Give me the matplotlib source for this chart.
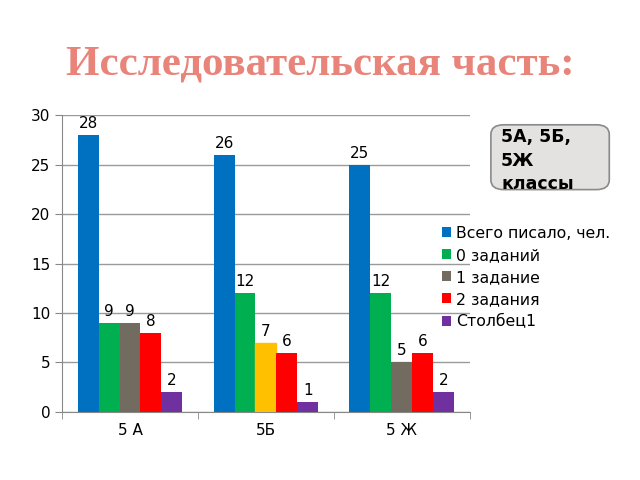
import numpy as np
import matplotlib
matplotlib.use("Agg")
import matplotlib.pyplot as plt
from matplotlib.patches import FancyBboxPatch

plt.rcParams['font.family'] = ['DejaVu Sans']

#Dati
classi = ['5 А', '5Б', '5 Ж']
serie = ['Всего писало, чел.', '0 заданий', '1 задание', '2 задания', 'Столбец1']
vsego = [28, 26, 25]
zero = [9, 12, 12]
odno = [9, 7, 5]
dva = [8, 6, 6]
stolbec = [2, 1, 2]
colori = ['#0070C0', '#00B050', '#726B60', '#FF0000', '#7030A0']

valori = [vsego, zero, odno, dva, stolbec]

fig = plt.figure(figsize=(6.4, 4.8), dpi=100)
ax = fig.add_axes([0.097, 0.142, 0.637, 0.618])

x = np.arange(len(classi))
w = 0.154
for i, (nome, val, col) in enumerate(zip(serie, valori, colori)):
    pos = x + (i - 2) * w
    barre = ax.bar(pos, val, w, color=col, label=nome, zorder=3)
    for xx, v in zip(pos, val):
        ax.text(xx, v + 0.4, str(v), ha='center', va='bottom', fontsize=11, zorder=4)
    if nome == '1 задание':
        barre[1].set_color('#FFC000')

ax.set_xlim(-0.5, 2.5)
ax.set_ylim(0, 30)
ax.set_yticks(range(0, 31, 5))
ax.set_xticks(x)
ax.set_xticklabels(classi)
ax.set_xticks([-0.5, 0.5, 1.5, 2.5], minor=True)
ax.tick_params(axis='x', which='major', length=0, labelsize=11, pad=8)
ax.tick_params(axis='x', which='minor', length=5, color='#888888')
ax.tick_params(axis='y', labelsize=11, length=5, color='#888888')
ax.yaxis.grid(True, color='#9a9a9a', linewidth=1, zorder=0)
for s in ['top', 'right']:
    ax.spines[s].set_visible(False)
ax.spines['left'].set_color('#888888')
ax.spines['bottom'].set_color('#888888')

fig.text(0.5, 0.865, 'Исследовательская часть:', ha='center', va='center',
         fontsize=31, fontweight='bold', family='Liberation Serif', color='#E8847A')

leg = fig.legend(loc='center left', bbox_to_anchor=(0.69, 0.422), frameon=False,
                 fontsize=11.3, handlelength=0.6, handleheight=0.6, handletextpad=0.3,
                 labelspacing=0.45, borderaxespad=0, borderpad=0)

box = FancyBboxPatch((0.767, 0.605), 0.185, 0.135, boxstyle='round,pad=0,rounding_size=0.02',
                     transform=fig.transFigure, facecolor='#E4E2E0', edgecolor='#8a8a8a',
                     linewidth=1.2)
fig.patches.append(box)
t = fig.text(0.783, 0.733, '5А, 5Б,\n5Ж\nклассы', ha='left', va='top', fontsize=12.5,
             fontweight='bold', linespacing=1.4)
t.set_clip_path(box)

fig.savefig('out.png', dpi=100)
